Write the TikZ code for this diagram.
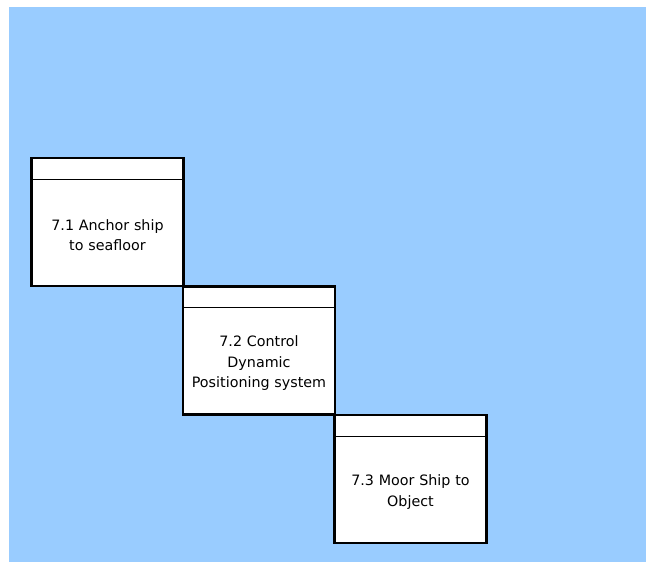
\documentclass[tikz,border=0pt]{standalone}
\usepackage{fontspec}
\setmainfont{DejaVu Sans}
\usetikzlibrary{calc}
\definecolor{bgblue}{HTML}{99CCFF}
\begin{document}
\begin{tikzpicture}[x=1pt,y=-1pt,
  procbox/.style={draw=black, line width=2.5pt, fill=white, minimum width=152pt, minimum height=128pt, inner sep=0pt, outer sep=0pt},
  hdrline/.style={draw=black, line width=1pt},
  lbl/.style={align=center, font=\fontsize{14.3}{20.5}\selectfont, text width=148pt, yshift=-2.5pt}]
\useasboundingbox (0,0) rectangle (646,562);
\fill[bgblue] (9,7) rectangle (646,562);
% boxes
\node[procbox, anchor=north west] (b1) at (31.5,158) {};
\node[procbox, anchor=north west] (b2) at (183,286.5) {};
\node[procbox, anchor=north west] (b3) at (334.5,415) {};
\foreach \b in {b1,b2,b3}{
  \draw[hdrline] ([yshift=-21pt]\b.north west) -- ([yshift=-21pt]\b.north east);
}
\node[lbl] (t1) at ($(b1.south)!0.5!([yshift=-21pt]b1.north)$) {7.1 Anchor ship\\to seafloor};
\node[lbl] (t2) at ($(b2.south)!0.5!([yshift=-21pt]b2.north)$) {7.2 Control\\Dynamic\\Positioning system};
\node[lbl] (t3) at ($(b3.south)!0.5!([yshift=-21pt]b3.north)$) {7.3 Moor Ship to\\Object};
\end{tikzpicture}
\end{document}
